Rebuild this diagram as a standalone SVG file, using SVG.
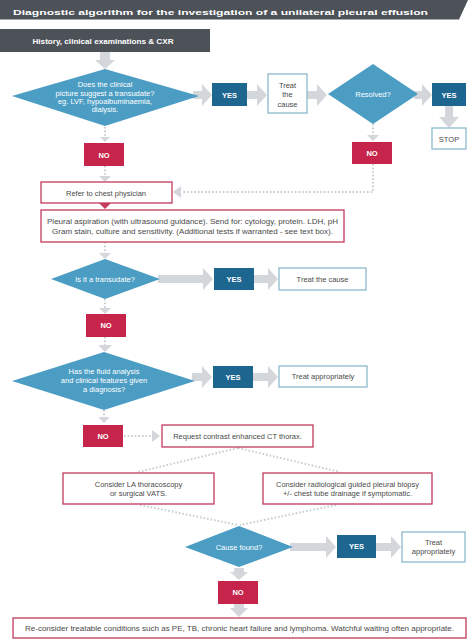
<svg xmlns="http://www.w3.org/2000/svg" width="474" height="643" viewBox="0 0 474 643">
<style>
text{font-family:"Liberation Sans",Arial,sans-serif;font-size:7.5px;text-anchor:middle;}
.dia{fill:#4c9dc4;}
.dt{fill:#ffffff;}
.yes{fill:#1c6690;}
.no{fill:#c6244b;}
.lbl{fill:#ffffff;font-weight:bold;font-size:7.5px;}
.bbox{fill:#ffffff;stroke:#8db8cc;stroke-width:1.3;}
.rbox{fill:#ffffff;stroke:#c23a5c;stroke-width:1.3;}
.bt{fill:#4a4a4a;}
.ga{fill:#d3d7dc;}
.dot{fill:none;stroke:#c9cdd2;stroke-width:2;stroke-dasharray:1.6 2;}
</style>
<rect width="474" height="643" fill="#ffffff"/>
<g id="title">
<polygon points="0,0 468,0 459,19.5 0,19.5" fill="#4d5258"/>
<text x="220.5" y="14.5" fill="#ffffff" font-size="14.5" font-weight="bold" textLength="415" lengthAdjust="spacingAndGlyphs">Diagnostic algorithm for the investigation of a unilateral pleural effusion</text>
</g>
<g id="connectors">
<polygon class="ga" points="100,52 110,52 110,60 115,60 105,69 95,60 100,60"/>
<polygon class="ga" points="193,91 202,91 202,84 212,95 202,106 202,99 193,99"/>
<polygon class="ga" points="247,91 257,91 257,84 267,95 257,106 257,99 247,99"/>
<polygon class="ga" points="307,91 317,91 317,84 327,95 317,106 317,99 307,99"/>
<polygon class="ga" points="414,91 422,91 422,84 432,95 422,106 422,99 414,99"/>
<polygon class="ga" points="445,106 453,106 453,117 459,117 449,128 439,117 445,117"/>
<polygon class="ga" points="158,275 203,275 203,268 213,279 203,290 203,283 158,283"/>
<polygon class="ga" points="254,275 268,275 268,268 278,279 268,290 268,283 254,283"/>
<polygon class="ga" points="192,373 202,373 202,366 212,377 202,388 202,381 192,381"/>
<polygon class="ga" points="253,373 268,373 268,366 278,377 268,388 268,381 253,381"/>
<polygon class="ga" points="290,543 326,543 326,536 336,547 326,558 326,551 290,551"/>
<polygon class="ga" points="376,543 391,543 391,536 401,547 391,558 391,551 376,551"/>
<line class="dot" x1="105" y1="127" x2="105" y2="137"/>
<polygon class="ga" points="100,137 110,137 105,142"/>
<line class="dot" x1="105" y1="166" x2="105" y2="176"/>
<polygon class="ga" points="99,176 111,176 105,182"/>
<line class="dot" x1="373" y1="124" x2="373" y2="135"/>
<polygon class="ga" points="367,135 379,135 373,141"/>
<polyline class="dot" points="373,164 373,192 182,192"/>
<polygon class="ga" points="173,192 181,186 181,198"/>
<polygon points="99,203 111,203 105,209" fill="#c23a5c"/>
<line class="dot" x1="105" y1="242" x2="105" y2="253"/>
<polygon class="ga" points="99,253 111,253 105,259"/>
<line class="dot" x1="105" y1="299" x2="105" y2="308"/>
<polygon class="ga" points="99,308 111,308 105,314"/>
<line class="dot" x1="105" y1="337" x2="105" y2="345"/>
<polygon class="ga" points="98,345 112,345 105,352"/>
<line class="dot" x1="104" y1="410" x2="104" y2="417"/>
<polygon class="ga" points="98,417 110,417 104,423"/>
<line class="dot" x1="124" y1="436" x2="152" y2="436"/>
<polygon class="ga" points="152,430 160,436 152,442"/>
<line class="dot" x1="238" y1="448" x2="138" y2="472"/>
<line class="dot" x1="238" y1="448" x2="340" y2="472"/>
<line class="dot" x1="140" y1="505" x2="238" y2="525"/>
<line class="dot" x1="336" y1="505" x2="240" y2="525"/>
<polygon class="ga" points="234,568 244,568 244,572 248,572 239,580 230,572 234,572"/>
<polygon class="ga" points="234,604 244,604 244,608 248,608 239,617 230,608 234,608"/>
</g>
<g id="history">
<rect x="0" y="29" width="210" height="23" fill="#4d5258"/>
<text x="103" y="44" fill="#ffffff" font-weight="bold" font-size="8" textLength="141" lengthAdjust="spacingAndGlyphs">History, clinical examinations &amp; CXR</text>
</g>
<g id="d1">
<polygon class="dia" points="105,69 199,96 105,126 12,96"/>
<text class="dt" x="105" y="87">Does the clinical</text>
<text class="dt" x="105" y="96">picture suggest a transudate?</text>
<text class="dt" x="105" y="104">eg. LVF, hypoalbuminaemia,</text>
<text class="dt" x="105" y="112">dialysis.</text>
</g>
<g id="yes1"><rect class="yes" x="212" y="83" width="35" height="23"/><text class="lbl" x="229.5" y="97.5">YES</text></g>
<g id="treat1"><rect class="bbox" x="268" y="74" width="39" height="39"/>
<text class="bt" x="287.5" y="88">Treat</text><text class="bt" x="287.5" y="97">the</text><text class="bt" x="287.5" y="107">cause</text></g>
<g id="d2"><polygon class="dia" points="373,64 418,94 373,124 328,94"/><text class="dt" x="373" y="97">Resolved?</text></g>
<g id="yes2"><rect class="yes" x="432" y="83" width="34" height="23"/><text class="lbl" x="449" y="97.5">YES</text></g>
<g id="stop"><rect class="bbox" x="432" y="128" width="34" height="21"/><text class="bt" x="449" y="141.5">STOP</text></g>
<g id="no1"><rect class="no" x="84" y="143" width="40" height="23"/><text class="lbl" x="104" y="157.5">NO</text></g>
<g id="no2"><rect class="no" x="352" y="142" width="40" height="22"/><text class="lbl" x="372" y="156">NO</text></g>
<g id="refer"><rect class="rbox" x="41" y="182" width="131" height="21"/><text class="bt" x="106" y="195.5">Refer to chest physician</text></g>
<g id="pleural"><rect class="rbox" x="41" y="210" width="303" height="32"/>
<text class="bt" x="192.5" y="224" textLength="291" lengthAdjust="spacingAndGlyphs">Pleural aspiration (with ultrasound guidance). Send for: cytology, protein. LDH, pH</text>
<text class="bt" x="192.5" y="233.5" textLength="281" lengthAdjust="spacingAndGlyphs">Gram stain, culture and sensitivity. (Additional tests if warranted - see text box).</text></g>
<g id="d3"><polygon class="dia" points="105,259 160,279 105,299 51,279"/><text class="dt" x="105" y="281.5">Is it a transudate?</text></g>
<g id="yes3"><rect class="yes" x="214" y="268" width="40" height="22"/><text class="lbl" x="234" y="281.5">YES</text></g>
<g id="treat3"><rect class="bbox" x="279" y="268" width="87" height="22"/><text class="bt" x="322.5" y="281.5">Treat the cause</text></g>
<g id="no3"><rect class="no" x="86" y="314" width="40" height="23"/><text class="lbl" x="106" y="328">NO</text></g>
<g id="d4"><polygon class="dia" points="104,352 195,381 104,410 12,381"/>
<text class="dt" x="104" y="374">Has the fluid analysis</text>
<text class="dt" x="104" y="383">and clinical features given</text>
<text class="dt" x="104" y="392">a diagnosis?</text></g>
<g id="yes4"><rect class="yes" x="213" y="366" width="40" height="22"/><text class="lbl" x="233" y="379.5">YES</text></g>
<g id="treat4"><rect class="bbox" x="279" y="366" width="88" height="21"/><text class="bt" x="323" y="379">Treat appropriately</text></g>
<g id="no4"><rect class="no" x="83" y="425" width="40" height="22"/><text class="lbl" x="103" y="439">NO</text></g>
<g id="ct"><rect class="rbox" x="162" y="425" width="151" height="22"/><text class="bt" x="237.5" y="438.5">Request contrast enhanced CT thorax.</text></g>
<g id="thor"><rect class="rbox" x="63" y="473" width="151" height="31"/>
<text class="bt" x="138.5" y="487">Consider LA thoracoscopy</text><text class="bt" x="138.5" y="496">or surgical VATS.</text></g>
<g id="biopsy"><rect class="rbox" x="263" y="473" width="169" height="31"/>
<text class="bt" x="347.5" y="487">Consider radiological guided pleural biopsy</text><text class="bt" x="347.5" y="496">+/- chest tube drainage if symptomatic.</text></g>
<g id="d5"><polygon class="dia" points="239,526 293,547 239,567 185,547"/><text class="dt" x="239" y="549.5">Cause found?</text></g>
<g id="yes5"><rect class="yes" x="337" y="535" width="39" height="23"/><text class="lbl" x="356.5" y="549">YES</text></g>
<g id="treat5"><rect class="bbox" x="402" y="532" width="63" height="30"/>
<text class="bt" x="433.5" y="545">Treat</text><text class="bt" x="433.5" y="554">appropriately</text></g>
<g id="no5"><rect class="no" x="218" y="581" width="40" height="23"/><text class="lbl" x="238" y="595">NO</text></g>
<g id="final"><rect class="rbox" x="13" y="618" width="453" height="20"/>
<text class="bt" x="239.5" y="630.5" textLength="429" lengthAdjust="spacingAndGlyphs">Re-consider treatable conditions such as PE, TB, chronic heart failure and lymphoma. Watchful waiting often appropriate.</text></g>
</svg>
